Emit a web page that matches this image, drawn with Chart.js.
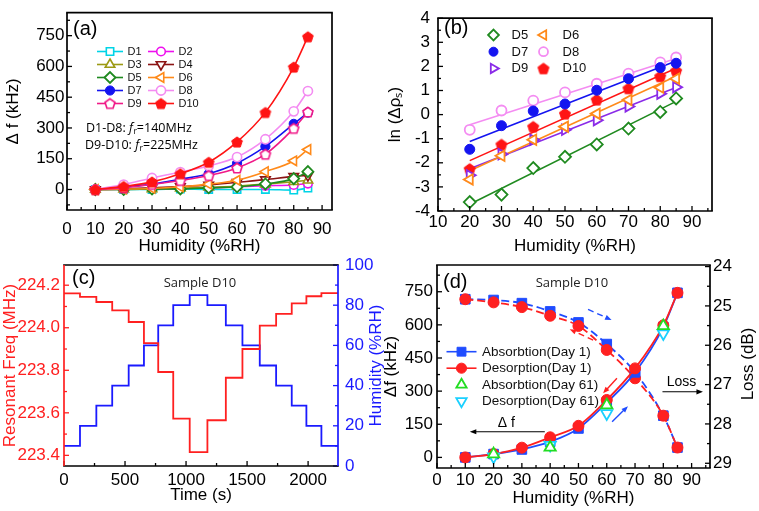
<!DOCTYPE html>
<html><head><meta charset="utf-8">
<script src="https://cdn.jsdelivr.net/npm/chart.js@4.4.1/dist/chart.umd.min.js"></script>
<style>
html,body{margin:0;padding:0;background:#fff;}
#wrap{position:relative;width:759px;height:511px;overflow:hidden;background:#fff;}
canvas{position:absolute;left:0;top:0;}
</style></head><body>
<div id="wrap">
<canvas id="ca" width="759" height="511"></canvas>
<canvas id="cb" width="759" height="511"></canvas>
<canvas id="cc" width="759" height="511"></canvas>
<canvas id="cd" width="759" height="511"></canvas>
</div>
<script>
// ---------------- DATA ----------------
// Panel (a): frequency shift (kHz) vs humidity
const humA = [10, 20, 30, 40, 50, 60, 70, 80, 85];
const dfD1 = [0, 0, 0, 2, 0, 0, 0, -3, 7];
const dfD2 = [0, 2, 3, 5, 8, 13, 18, 22, 29];
const dfD3 = [0, 2, 3, 6, 11, 16, 26, 38, 45];
const dfD4 = [0, 3, 8, 14, 22, 35, 48, 64, 68];
const dfD5 = [0, 0, 2, 3, 8, 13, 27, 53, 87];
const dfD6 = [0, 2, 5, 13, 26, 45, 87, 140, 195];
const dfD7 = [0, 13, 26, 50, 77, 128, 210, 320, 375];
const dfD8 = [0, 24, 56, 85, 115, 158, 245, 381, 480];
const dfD9 = [0, 8, 25, 44, 68, 105, 172, 298, 378];
const dfD10 = [0, 15, 37, 77, 133, 232, 376, 597, 745];
const xTicksA = [0, 10, 20, 30, 40, 50, 60, 70, 80, 90];
const xMinorA = [5, 15, 25, 35, 45, 55, 65, 75, 85];
const yTicksA = [0, 150, 300, 450, 600, 750];
const yMinorA = [-75, 75, 225, 375, 525, 675, 825];

// Panel (b): ln(delta rho_s) vs humidity, points and linear fits
const humB = [20, 30, 40, 50, 60, 70, 80, 85];
const lnD5 = [-3.63, -3.32, -2.22, -1.75, -1.24, -0.58, 0.11, 0.67];
const lnD6 = [-2.69, -1.71, -1.04, -0.50, 0.04, 0.61, 1.12, 1.49];
const lnD7 = [-1.44, -0.46, 0.15, 0.44, 1.01, 1.49, 1.95, 2.13];
const lnD8 = [-0.63, 0.17, 0.58, 0.92, 1.28, 1.70, 2.17, 2.37];
const lnD9 = [-2.52, -1.64, -1.04, -0.63, -0.23, 0.34, 0.87, 1.14];
const lnD10 = [-2.25, -1.24, -0.50, 0.04, 0.62, 1.09, 1.59, 1.82];
const fitX = [20, 85];
const fitD5 = [-3.72, 0.55];
const fitD6 = [-2.33, 1.59];
const fitD7 = [-1.12, 2.22];
const fitD8 = [-0.42, 2.33];
const fitD9 = [-2.25, 1.12];
const fitD10 = [-1.91, 1.92];
const xTicksB = [10, 20, 30, 40, 50, 60, 70, 80, 90];
const xMinorB = [15, 25, 35, 45, 55, 65, 75, 85, 95];
const yTicksB = [-4, -3, -2, -1, 0, 1, 2, 3, 4];
const yMinorB = [-3.5, -2.5, -1.5, -0.5, 0.5, 1.5, 2.5, 3.5];

// Panel (c): time trace, sample D10
const timeC = [0, 131, 265, 395, 530, 655, 772, 895, 1030, 1175, 1326, 1462, 1604, 1738, 1866, 1986, 2109, 2245];
const freqC = [224.162, 224.145, 224.121, 224.082, 224.027, 223.928, 223.792, 223.573, 223.415, 223.565, 223.765, 223.900, 224.010, 224.065, 224.115, 224.148, 224.163, 224.163];
const rhC = [10, 20, 30, 40, 50, 60, 70, 80, 85, 80, 70, 60, 50, 40, 30, 20, 10, 10];
const xTicksC = [0, 500, 1000, 1500, 2000];
const xMinorC = [250, 750, 1250, 1750];
const yTicksC = [223.4, 223.6, 223.8, 224.0, 224.2];
const yMinorC = [223.5, 223.7, 223.9, 224.1];
const y2TicksC = [0, 20, 40, 60, 80, 100];
const y2MinorC = [10, 30, 50, 70, 90];

// Panel (d): sample D10 hysteresis and loss
const humD = [10, 20, 30, 40, 50, 60, 70, 80, 85];
const dfAbs1 = [0, 15, 36, 71, 131, 248, 385, 590, 745];
const dfDes1 = [0, 15, 44, 91, 143, 260, 403, 598, 745];
const lossAbs1 = [24.83, 24.85, 24.93, 25.14, 25.42, 25.97, 26.69, 27.79, 28.60];
const lossDes1 = [24.83, 24.91, 25.03, 25.25, 25.51, 26.12, 26.84, 27.79, 28.60];
const humD61 = [20, 40, 60, 80];
const dfAbs61 = [15, 45, 237, 595];
const dfDes61 = [3, 56, 199, 561];
const xTicksD = [0, 10, 20, 30, 40, 50, 60, 70, 80, 90];
const xMinorD = [5, 15, 25, 35, 45, 55, 65, 75, 85, 95];
const yTicksD = [0, 150, 300, 450, 600, 750];
const yMinorD = [75, 225, 375, 525, 675, 825];
const y2TicksD = [24, 25, 26, 27, 28, 29];
const y2MinorD = [24.5, 25.5, 26.5, 27.5, 28.5];

// ---------------- HELPERS ----------------
const F = "'Liberation Sans', Arial, sans-serif";
const FO = "'Open Sans', sans-serif";
Chart.defaults.font.family = F;
Chart.defaults.font.size = 17;
Chart.defaults.color = '#000';
Chart.defaults.animation = false;
Chart.defaults.events = [];
Chart.defaults.plugins.legend.display = false;
Chart.defaults.plugins.tooltip.enabled = false;

const pts = (xs, ys) => xs.map((x, i) => ({x: x, y: ys[i]}));

function pentagon(r, fill, stroke, lw) {
  const c = document.createElement('canvas');
  const s = Math.ceil(2 * r + lw + 3);
  c.width = s; c.height = s;
  const g = c.getContext('2d');
  g.translate(s / 2, s / 2 + r * 0.1);
  g.beginPath();
  for (let i = 0; i < 5; i++) {
    const a = -Math.PI / 2 + i * 2 * Math.PI / 5;
    g.lineTo(r * Math.cos(a), r * Math.sin(a));
  }
  g.closePath();
  g.fillStyle = fill; g.fill();
  if (lw > 0) { g.strokeStyle = stroke; g.lineWidth = lw; g.stroke(); }
  return c;
}

function drawMarker(ctx, m, x, y) {
  ctx.save();
  ctx.fillStyle = m.bg; ctx.strokeStyle = m.color; ctx.lineWidth = m.bw;
  ctx.setLineDash([]);
  Chart.helpers.drawPoint(ctx, {pointStyle: m.ps, rotation: m.rot || 0, radius: m.r, borderWidth: m.bw}, x, y);
  ctx.restore();
}

function axis(o) {
  return {
    type: 'linear', position: o.pos, min: o.min, max: o.max, reverse: !!o.reverse,
    grid: {display: false, drawTicks: false},
    border: {display: false},
    afterBuildTicks: s => { s.ticks = o.major.map(v => ({value: v})); },
    afterFit: s => { if (o.pos === 'left' || o.pos === 'right') s.width = o.size; else s.height = o.size; },
    ticks: {color: o.color || '#000', font: {size: 17}, padding: o.tp, autoSkip: false, maxRotation: 0,
      callback: v => o.fmt ? o.fmt(v) : String(v)},
    title: {display: !!o.title, text: o.title || '', color: o.color || '#000', font: {size: 17},
      padding: {top: o.ttp || 0, bottom: o.ttp || 0}}
  };
}

function framePlugin(cfg) {
  return {
    id: 'frame_' + cfg.name,
    afterDatasetsDraw(chart) {
      const ctx = chart.ctx, a = chart.chartArea;
      ctx.save();
      ctx.setLineDash([]);
      cfg.axes.forEach(ax => {
        const s = chart.scales[ax.id];
        const lo = Math.min(s.min, s.max), hi = Math.max(s.min, s.max);
        ctx.strokeStyle = ax.color || '#000';
        ctx.lineWidth = 1.3;
        const draw = (v, len) => {
          if (v < lo || v > hi) return;
          const p = s.getPixelForValue(v);
          ctx.beginPath();
          if (ax.side === 'bottom') { ctx.moveTo(p, a.bottom); ctx.lineTo(p, a.bottom - len); }
          else if (ax.side === 'left') { ctx.moveTo(a.left, p); ctx.lineTo(a.left + len, p); }
          else { ctx.moveTo(a.right, p); ctx.lineTo(a.right - len, p); }
          ctx.stroke();
        };
        ax.major.forEach(v => draw(v, 5));
        ax.minor.forEach(v => draw(v, 3));
      });
      const side = (x1, y1, x2, y2, c) => {
        ctx.strokeStyle = c; ctx.lineWidth = 1.7;
        ctx.beginPath(); ctx.moveTo(x1, y1); ctx.lineTo(x2, y2); ctx.stroke();
      };
      side(a.left - 0.85, a.top, a.right + 0.85, a.top, '#000');
      side(a.left - 0.85, a.bottom, a.right + 0.85, a.bottom, '#000');
      side(a.left, a.top, a.left, a.bottom, cfg.left || '#000');
      side(a.right, a.top, a.right, a.bottom, cfg.right || '#000');
      ctx.restore();
    }
  };
}

function legendPlugin(name, items) {
  return {
    id: 'legend_' + name,
    afterDraw(chart) {
      const ctx = chart.ctx;
      ctx.save();
      items.forEach(it => {
        if (it.line) {
          ctx.strokeStyle = it.m.color; ctx.lineWidth = 1.6; ctx.setLineDash([]);
          ctx.beginPath(); ctx.moveTo(it.x1, it.y); ctx.lineTo(it.x2, it.y); ctx.stroke();
        }
        drawMarker(ctx, it.m, it.mx, it.y);
        ctx.fillStyle = '#111'; ctx.font = it.font; ctx.textAlign = 'left'; ctx.textBaseline = 'middle';
        ctx.fillText(it.text, it.tx, it.y + 0.5);
      });
      ctx.restore();
    }
  };
}

// texts: {x,y,text,font,color,align,rot,data:[sx,sy]}
function textPlugin(name, items, arrows) {
  return {
    id: 'text_' + name,
    afterDraw(chart) {
      const ctx = chart.ctx;
      ctx.save();
      (arrows || []).forEach(ar => {
        const sx = chart.scales[ar.sx], sy = chart.scales[ar.sy];
        const x1 = sx.getPixelForValue(ar.from[0]), y1 = sy.getPixelForValue(ar.from[1]);
        const x2 = sx.getPixelForValue(ar.to[0]), y2 = sy.getPixelForValue(ar.to[1]);
        ctx.strokeStyle = ar.color; ctx.fillStyle = ar.color; ctx.lineWidth = ar.lw || 1.3;
        ctx.setLineDash(ar.dash || []);
        const ang = Math.atan2(y2 - y1, x2 - x1);
        const hl = ar.head || 7;
        ctx.beginPath(); ctx.moveTo(x1, y1);
        ctx.lineTo(x2 - Math.cos(ang) * hl * 0.8, y2 - Math.sin(ang) * hl * 0.8); ctx.stroke();
        ctx.setLineDash([]);
        ctx.beginPath();
        ctx.moveTo(x2, y2);
        ctx.lineTo(x2 - hl * Math.cos(ang - 0.38), y2 - hl * Math.sin(ang - 0.38));
        ctx.lineTo(x2 - hl * Math.cos(ang + 0.38), y2 - hl * Math.sin(ang + 0.38));
        ctx.closePath(); ctx.fill();
      });
      items.forEach(t => {
        let x = t.x, y = t.y;
        if (t.data) { x = chart.scales[t.data[0]].getPixelForValue(t.x); y = chart.scales[t.data[1]].getPixelForValue(t.y); }
        ctx.save();
        ctx.translate(x, y);
        if (t.rot) ctx.rotate(t.rot);
        ctx.fillStyle = t.color || '#000';
        ctx.textBaseline = 'middle';
        if (t.parts) {
          let cx = 0;
          t.parts.forEach(p => {
            ctx.font = p.font; ctx.textAlign = 'left';
            ctx.fillText(p.s, cx, p.dy || 0);
            cx += ctx.measureText(p.s).width + (p.after || 0);
          });
        } else {
          ctx.font = t.font; ctx.textAlign = t.align || 'left';
          ctx.fillText(t.text, 0, 0);
        }
        ctx.restore();
      });
      ctx.restore();
    }
  };
}

// ---------------- PANEL (a) ----------------
const styA = [
  {label: 'D1', data: dfD1, color: '#00d4e6', ps: 'rect', r: 5.2, bw: 1.6, bg: '#fff'},
  {label: 'D2', data: dfD2, color: '#ee10ee', ps: 'circle', r: 4.3, bw: 1.6, bg: '#fff'},
  {label: 'D3', data: dfD3, color: '#9c9a14', ps: 'triangle', r: 5.5, bw: 1.6, bg: '#fff'},
  {label: 'D4', data: dfD4, color: '#8b1414', ps: 'triangle', rot: 180, r: 5.5, bw: 1.6, bg: '#fff'},
  {label: 'D5', data: dfD5, color: '#1f8a1f', ps: 'rectRot', r: 5.5, bw: 1.8, bg: '#fff'},
  {label: 'D6', data: dfD6, color: '#ff8a1a', ps: 'triangle', rot: -90, r: 5.5, bw: 1.6, bg: '#fff'},
  {label: 'D7', data: dfD7, color: '#1414f0', ps: 'circle', r: 4.6, bw: 1, bg: '#1414f0'},
  {label: 'D8', data: dfD8, color: '#f48cf2', ps: 'circle', r: 4.6, bw: 1.6, bg: '#fff'},
  {label: 'D9', data: dfD9, color: '#f01a88', ps: 'pentD9', r: 5, bw: 1.6, bg: '#fff'},
  {label: 'D10', data: dfD10, color: '#ff1414', ps: 'pentD10', r: 5, bw: 1, bg: '#ff1414'}
];
const pentA9 = pentagon(5.2, '#fff', '#f01a88', 1.7);
const pentA10 = pentagon(5.6, '#ff1414', '#ff1414', 1);
function resolvePs(s, p9, p10) {
  if (s.ps === 'pentD9') return p9;
  if (s.ps === 'pentD10') return p10;
  return s.ps;
}
const dsA = styA.map((s, i) => ({
  label: s.label, data: pts(humA, s.data), borderColor: s.color, backgroundColor: s.bg,
  borderWidth: 1.6, cubicInterpolationMode: 'monotone', tension: 0.4,
  pointStyle: resolvePs(s, pentA9, pentA10), pointRotation: s.rot || 0, pointRadius: s.r,
  pointBorderWidth: s.bw, pointBackgroundColor: s.bg, pointBorderColor: s.color, order: 10 - i
}));
const legA = styA.map((s, i) => {
  const col = i % 2, row = Math.floor(i / 2);
  const x0 = col === 0 ? 97 : 148;
  return {line: true, x1: x0, x2: x0 + 26, mx: x0 + 13, tx: x0 + 30.5, y: 51.5 + row * 13,
    text: s.label, font: '11px ' + F,
    m: {ps: resolvePs(s, pentA9, pentA10), rot: s.rot || 0, r: s.r, bw: s.bw, bg: s.bg, color: s.color}};
});
const fsmall = '12.5px ' + FO;
const fital = 'italic 12.5px ' + FO;
const fsub = '8.5px ' + FO;
new Chart(document.getElementById('ca'), {
  type: 'line',
  data: {datasets: dsA},
  options: {
    responsive: false,
    layout: {padding: {left: 0, top: 10, right: 427, bottom: 251}},
    scales: {
      x: axis({pos: 'bottom', min: 0, max: 93.5, major: xTicksA, size: 50, tp: 9.5, title: 'Humidity (%RH)', ttp: 3}),
      y: axis({pos: 'left', min: -100, max: 862, major: yTicksA, size: 67, tp: 2.5, title: 'Δ f (kHz)', ttp: 3})
    }
  },
  plugins: [
    framePlugin({name: 'a', axes: [
      {id: 'x', side: 'bottom', major: xTicksA, minor: xMinorA},
      {id: 'y', side: 'left', major: yTicksA, minor: yMinorA}]}),
    legendPlugin('a', legA),
    textPlugin('a', [
      {x: 73, y: 29, text: '(a)', font: '20px ' + F},
      {x: 86, y: 128.5, parts: [{s: 'D1-D8: ', font: fsmall}, {s: 'f', font: fital, after: 0.5}, {s: 'r', font: fsub, dy: 3.5}, {s: '=140MHz', font: fsmall}]},
      {x: 85, y: 145.5, parts: [{s: 'D9-D10: ', font: fsmall}, {s: 'f', font: fital, after: 0.5}, {s: 'r', font: fsub, dy: 3.5}, {s: '=225MHz', font: fsmall}]}
    ])
  ]
});

// ---------------- PANEL (b) ----------------
const pentB10 = pentagon(5.8, '#ff1414', '#ff1414', 1);
const styB = [
  {label: 'D5', data: lnD5, fit: fitD5, color: '#1f8a1f', ps: 'rectRot', r: 6, bw: 1.8, bg: '#fff'},
  {label: 'D6', data: lnD6, fit: fitD6, color: '#ff8a1a', ps: 'triangle', rot: -90, r: 6, bw: 1.8, bg: '#fff'},
  {label: 'D7', data: lnD7, fit: fitD7, color: '#1414f0', ps: 'circle', r: 5, bw: 1, bg: '#1414f0'},
  {label: 'D8', data: lnD8, fit: fitD8, color: '#f48cf2', ps: 'circle', r: 5, bw: 1.8, bg: '#fff'},
  {label: 'D9', data: lnD9, fit: fitD9, color: '#8a2be8', ps: 'triangle', rot: 90, r: 6, bw: 1.8, bg: '#fff'},
  {label: 'D10', data: lnD10, fit: fitD10, color: '#ff1414', ps: 'pentD10', r: 5.5, bw: 1, bg: '#ff1414'}
];
const dsB = [];
styB.forEach(s => {
  dsB.push({label: s.label, data: pts(humB, s.data), showLine: false,
    pointStyle: resolvePs(s, null, pentB10), pointRotation: s.rot || 0, pointRadius: s.r,
    pointBorderWidth: s.bw, pointBackgroundColor: s.bg, pointBorderColor: s.color, borderColor: s.color});
});
styB.forEach(s => {
  dsB.push({label: s.label + ' fit', data: pts(fitX, s.fit), borderColor: s.color, borderWidth: 1.6, pointRadius: 0});
});
const legB = styB.map((s, i) => {
  const col = i % 2, row = Math.floor(i / 2);
  return {line: false, mx: col === 0 ? 493.5 : 543.5, tx: col === 0 ? 511.5 : 562.5, y: 35 + row * 16.7,
    text: s.label, font: '13px ' + F,
    m: {ps: resolvePs(s, null, pentB10), rot: s.rot || 0, r: s.r * 0.9, bw: s.bw, bg: s.bg, color: s.color}};
});
new Chart(document.getElementById('cb'), {
  type: 'line',
  data: {datasets: dsB},
  options: {
    responsive: false,
    layout: {padding: {left: 380, top: 12, right: 47, bottom: 250}},
    scales: {
      x: axis({pos: 'bottom', min: 10, max: 96.3, major: xTicksB, size: 50, tp: 1, title: 'Humidity (%RH)', ttp: 4}),
      y: axis({pos: 'left', min: -4, max: 4, major: yTicksB, size: 58, tp: 8, title: 'ln (Δρₛ)', ttp: 4.8})
    }
  },
  plugins: [
    framePlugin({name: 'b', axes: [
      {id: 'x', side: 'bottom', major: xTicksB, minor: xMinorB},
      {id: 'y', side: 'left', major: yTicksB, minor: yMinorB}]}),
    legendPlugin('b', legB),
    textPlugin('b', [{x: 444, y: 28, text: '(b)', font: '20px ' + F}])
  ]
});

// ---------------- PANEL (c) ----------------
const redC = '#ff2020', blueC = '#1a1aff';
new Chart(document.getElementById('cc'), {
  type: 'line',
  data: {datasets: [
    {label: 'Resonant Freq', data: pts(timeC, freqC), yAxisID: 'yL', stepped: 'before', borderColor: redC, borderWidth: 1.8, pointRadius: 0},
    {label: 'Humidity', data: pts(timeC, rhC), yAxisID: 'yR', stepped: 'before', borderColor: blueC, borderWidth: 1.8, pointRadius: 0}
  ]},
  options: {
    responsive: false,
    layout: {padding: {left: 0, top: 265, right: 371, bottom: 0}},
    scales: {
      x: axis({pos: 'bottom', min: 0, max: 2245, major: xTicksC, size: 45, tp: 3.8, title: 'Time (s)', ttp: 5.8}),
      yL: axis({pos: 'left', min: 223.35, max: 224.295, major: yTicksC, size: 64, tp: 4, title: 'Resonant Freq (MHz)', ttp: 0.5, color: redC, fmt: v => v.toFixed(1)}),
      yR: axis({pos: 'right', min: 0, max: 100, major: y2TicksC, size: 50, tp: 7, color: blueC})
    }
  },
  plugins: [
    framePlugin({name: 'c', left: redC, right: blueC, axes: [
      {id: 'x', side: 'bottom', major: xTicksC, minor: xMinorC},
      {id: 'yL', side: 'left', major: yTicksC, minor: yMinorC, color: redC},
      {id: 'yR', side: 'right', major: y2TicksC, minor: y2MinorC, color: blueC}]}),
    textPlugin('c', [
      {x: 72, y: 278, text: '(c)', font: '20px ' + F},
      {x: 200, y: 283, text: 'Sample D10', font: '13px ' + FO, align: 'center', color: '#222'},
      {x: 376, y: 365.5, text: 'Humidity (%RH)', font: '17px ' + F, align: 'center', color: blueC, rot: -Math.PI / 2}
    ])
  ]
});

// ---------------- PANEL (d) ----------------
const blueD = '#1f4cff', redD = '#ff2020', greenD = '#22dd22', cyanD = '#1ad0ff';
const styD = [
  {label: 'Absorbtion(Day 1)', color: blueD, ps: 'rect', r: 6.8, bw: 1, bg: blueD, line: true},
  {label: 'Desorption(Day 1)', color: redD, ps: 'circle', r: 5.5, bw: 1, bg: redD, line: true},
  {label: 'Absorbtion(Day 61)', color: greenD, ps: 'triangle', r: 6.5, bw: 1.8, bg: '#fff', line: false},
  {label: 'Desorption(Day 61)', color: cyanD, ps: 'triangle', rot: 180, r: 6.5, bw: 1.8, bg: '#fff', line: false}
];
const mkD = (s, data, axisId, extra) => Object.assign({
  label: s.label, data: data, yAxisID: axisId, borderColor: s.color, backgroundColor: s.bg,
  pointStyle: s.ps, pointRotation: s.rot || 0, pointRadius: s.r, pointBorderWidth: s.bw,
  pointBackgroundColor: s.bg, pointBorderColor: s.color
}, extra);
const dsD = [
  mkD(styD[2], pts(humD61, dfAbs61), 'y', {showLine: false}),
  mkD(styD[3], pts(humD61, dfDes61), 'y', {showLine: false}),
  mkD(styD[1], pts(humD, dfDes1), 'y', {borderWidth: 1.8, cubicInterpolationMode: 'monotone'}),
  mkD(styD[0], pts(humD, dfAbs1), 'y', {borderWidth: 1.8, cubicInterpolationMode: 'monotone'}),
  mkD(styD[1], pts(humD, lossDes1), 'y2', {borderWidth: 1.8, borderDash: [8, 4], cubicInterpolationMode: 'monotone'}),
  mkD(styD[0], pts(humD, lossAbs1), 'y2', {borderWidth: 1.8, borderDash: [8, 4], cubicInterpolationMode: 'monotone'})
];
const legD = styD.map((s, i) => ({line: s.line, x1: 446.5, x2: 476.5, mx: 461.5, tx: 482, y: 351.7 + i * 16.5,
  text: s.label, font: '13.5px ' + F,
  m: {ps: s.ps, rot: s.rot || 0, r: s.r * 0.92, bw: s.bw, bg: s.bg, color: s.color}}));
new Chart(document.getElementById('cd'), {
  type: 'line',
  data: {datasets: dsD},
  options: {
    responsive: false,
    layout: {padding: {left: 380, top: 265, right: 0, bottom: 0}},
    scales: {
      x: axis({pos: 'bottom', min: 0, max: 96.5, major: xTicksD, size: 43, tp: 1.8, title: 'Humidity (%RH)', ttp: 2.8}),
      y: axis({pos: 'left', min: -48, max: 871, major: yTicksD, size: 57, tp: 4, title: 'Δf (kHz)', ttp: 0.8}),
      y2: axis({pos: 'right', min: 23.96, max: 29.12, reverse: true, major: y2TicksD, size: 49, tp: 3})
    }
  },
  plugins: [
    framePlugin({name: 'd', axes: [
      {id: 'x', side: 'bottom', major: xTicksD, minor: xMinorD},
      {id: 'y', side: 'left', major: yTicksD, minor: yMinorD},
      {id: 'y2', side: 'right', major: y2TicksD, minor: y2MinorD}]}),
    legendPlugin('d', legD),
    textPlugin('d', [
      {x: 443, y: 282, text: '(d)', font: '20px ' + F},
      {x: 572, y: 283, text: 'Sample D10', font: '13px ' + FO, align: 'center', color: '#222'},
      {x: 748.5, y: 364, text: 'Loss (dB)', font: '17px ' + F, align: 'center', rot: -Math.PI / 2},
      {x: 81.2, y: 342, text: 'Loss', font: '14px ' + F, data: ['x', 'y']},
      {x: 21.5, y: 155, text: 'Δ f', font: '14px ' + F, data: ['x', 'y']}
    ], [
      {sx: 'x', sy: 'y', from: [79.7, 297], to: [94.0, 297], color: '#000', lw: 1.1, head: 7},
      {sx: 'x', sy: 'y', from: [38.1, 116], to: [11.6, 116], color: '#000', lw: 1.1, head: 7},
      {sx: 'x', sy: 'y', from: [53.4, 670], to: [61.7, 622], color: blueD, lw: 1.4, dash: [6, 4], head: 7},
      {sx: 'x', sy: 'y', from: [55.2, 531], to: [46.9, 580], color: redD, lw: 1.4, dash: [6, 4], head: 7},
      {sx: 'x', sy: 'y', from: [63.6, 358], to: [58.7, 290], color: redD, lw: 1.4, head: 7},
      {sx: 'x', sy: 'y', from: [61.9, 161], to: [67.5, 232], color: blueD, lw: 1.4, head: 7}
    ])
  ]
});
</script>
</body></html>
